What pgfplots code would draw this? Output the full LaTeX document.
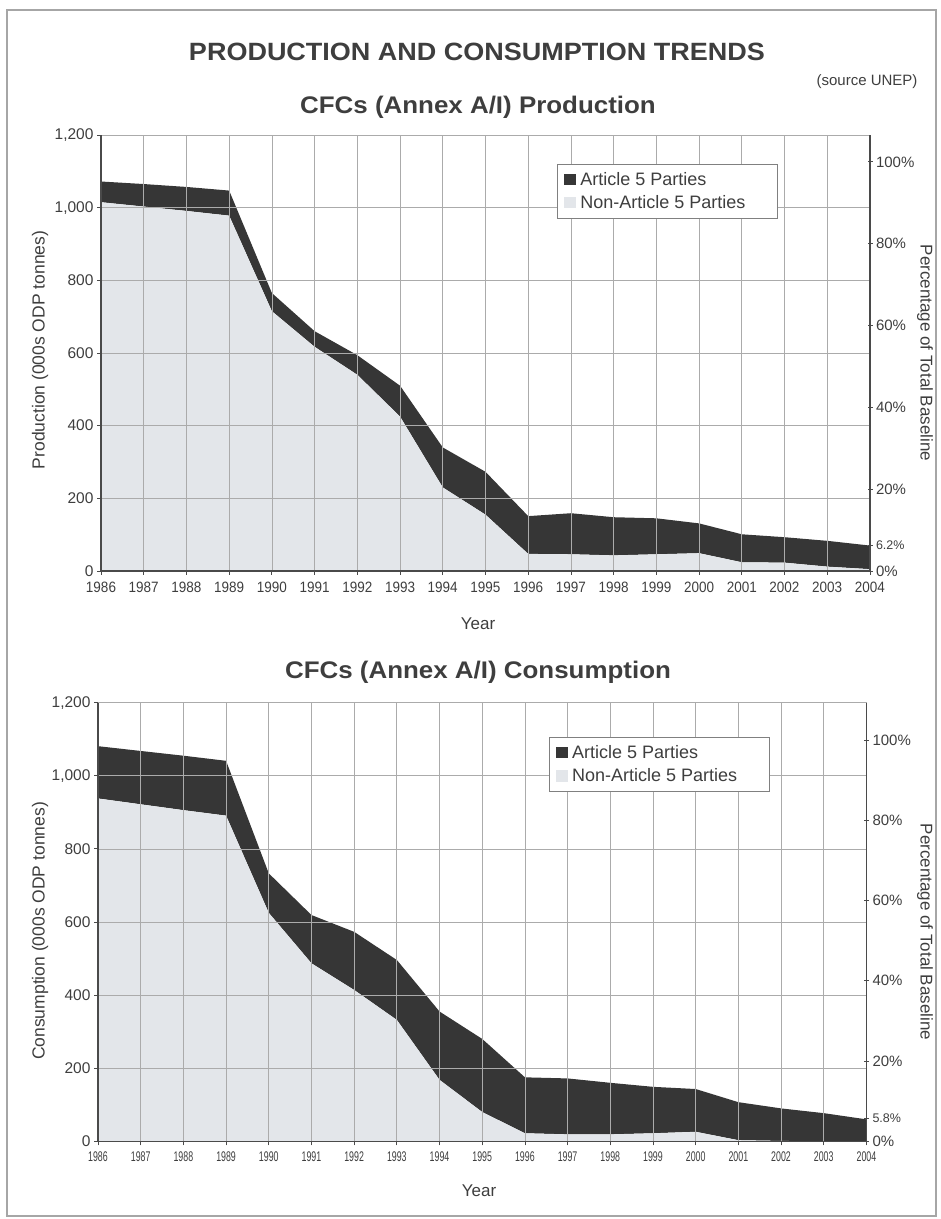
\documentclass[border=0pt]{standalone}
\usepackage{fontspec}
\setmainfont{Liberation Sans}
\usepackage{graphicx}
\usepackage{pgfplots}
\usepackage{pgfplotstable}
\pgfplotsset{compat=1.18}
\definecolor{darkfill}{HTML}{363636}
\definecolor{lightfill}{HTML}{E3E6EA}
\definecolor{gridc}{HTML}{ABABAB}
\definecolor{txt}{HTML}{3E3E3E}
\definecolor{axc}{HTML}{4A4A4A}

\pgfplotstableread{
year nona5 a5
1986 1015 57
1987 1003 62
1988 991 66
1989 978 69
1990 715 50
1991 617 43
1992 540 54
1993 425 85
1994 230 110
1995 155 118
1996 47 104
1997 46 113
1998 43 105
1999 46 99
2000 49 82
2001 24 77
2002 23 70
2003 12 71
2004 5 65
}\prodtable

\pgfplotstableread{
year nona5 a5
1986 938 143
1987 922 146
1988 906 149
1989 891 150
1990 625 108
1991 487 132
1992 414 159
1993 332 164
1994 168 187
1995 80 200
1996 22 153
1997 19 153
1998 19 141
1999 22 127
2000 26 117
2001 3 104
2002 1 89
2003 0 77
2004 0 60
}\constable

\pgfplotsset{
 cfcbase/.style={
  scale only axis, anchor=south west,
  xmin=1986, xmax=2004, ymin=0, ymax=1200,
  xtick={1986,...,2004}, ytick={0,200,...,1200},
  yticklabels={0,200,400,600,800,{1,000},{1,200}},
  grid=major, grid style={gridc, line width=0.7pt},
  axis x line*=bottom, axis y line*=left,
  axis line style={axc, line width=1.3pt},
  tick style={axc, line width=0.8pt}, major tick length=4pt, tick align=outside,
  every tick label/.append style={text=txt},
  yticklabel style={font=\fontsize{15.5}{18}\selectfont},
  stack plots=y, area style,
  /pgf/number format/assume math mode=true,
  legend cell align=left,
  legend image code/.code={\fill[##1] (3pt,-5.5pt) rectangle (14.5pt,6pt); \path (0pt,0pt) (17pt,0pt);},
  legend style={draw=gray, line width=0.7pt, fill=white, font=\fontsize{18}{23}\selectfont, text=txt, anchor=north west, inner xsep=4pt, inner ysep=6pt, row sep=4.5pt},
  reverse legend,
 },
 pctbase/.style={
  scale only axis, anchor=south west,
  xmin=1986, xmax=2004, ymin=0,
  axis x line=none, axis y line*=right,
  axis line style={axc, line width=1.3pt},
  tick style={axc, line width=0.8pt}, major tick length=5pt, tick align=center,
  ytick={0,20,...,100},
  yticklabels={0\%,20\%,40\%,60\%,80\%,100\%},
  yticklabel style={font=\fontsize{15}{18}\selectfont, text=txt},
  /pgf/number format/assume math mode=true,
 },
}

\begin{document}
\begin{tikzpicture}[x=1pt,y=1pt]
\path[use as bounding box] (0,0) rectangle (941,1219);
\draw[gray!70, line width=1.2pt] (7,1209) rectangle (936,3);

\node[font=\fontsize{25}{29}\selectfont\bfseries, text=txt] at (477,1167) {\scalebox{1.08}[1]{PRODUCTION AND CONSUMPTION TRENDS}};
\node[font=\fontsize{15}{18}\selectfont, text=txt, anchor=east] at (921,1137) {(source UNEP)};
\node[font=\fontsize{24}{28}\selectfont\bfseries, text=txt] at (478,1112) {\scalebox{1.08}[1]{CFCs (Annex A/I) Production}};
\node[font=\fontsize{24}{28}\selectfont\bfseries, text=txt] at (478,547) {\scalebox{1.08}[1]{CFCs (Annex A/I) Consumption}};

% ---------- Production ----------
\begin{axis}[cfcbase, at={(101pt,648pt)}, width=769pt, height=436pt,
  xticklabel={\scalebox{0.9}[1]{\pgfmathprintnumber[1000 sep={},fixed,precision=0,assume math mode=true]{\tick}}},
  xticklabel style={font=\fontsize{15}{18}\selectfont, yshift=-3pt},
  legend style={at={(0.593,0.9335)}}]
\addplot[fill=lightfill, draw=none] table[x=year,y=nona5]{\prodtable} \closedcycle;
\addplot[fill=darkfill, draw=none] table[x=year,y=a5]{\prodtable} \closedcycle;
\legend{Non-Article 5 Parties\hspace*{26pt},Article 5 Parties}
\end{axis}
\begin{axis}[pctbase, at={(101pt,648pt)}, width=769pt, height=436pt, ymax=106.57,
  extra y ticks={6.2}, extra y tick labels={6.2\%},
  extra y tick style={yticklabel style={font=\fontsize{12.5}{15}\selectfont}}]
\addplot[draw=none] coordinates {(1986,0)};
\end{axis}
\node[font=\fontsize{17.5}{21}\selectfont, text=txt, rotate=90] at (40,869) {Production (000s ODP tonnes)};
\node[font=\fontsize{17}{21}\selectfont, text=txt, rotate=-90] at (925,866) {Percentage of Total Baseline};
\node[font=\fontsize{17}{21}\selectfont, text=txt] at (478,595) {Year};

% ---------- Consumption ----------
\begin{axis}[cfcbase, at={(98pt,77.7pt)}, width=768.5pt, height=438.6pt,
  xticklabel={\scalebox{0.63}[1]{\pgfmathprintnumber[1000 sep={},fixed,precision=0,assume math mode=true]{\tick}}},
  xticklabel style={font=\fontsize{14}{17}\selectfont, yshift=-3pt},
  legend style={at={(0.5865,0.921)}}]
\addplot[fill=lightfill, draw=none] table[x=year,y=nona5]{\constable} \closedcycle;
\addplot[fill=darkfill, draw=none] table[x=year,y=a5]{\constable} \closedcycle;
\legend{Non-Article 5 Parties\hspace*{26pt},Article 5 Parties}
\end{axis}
\begin{axis}[pctbase, at={(98pt,77.7pt)}, width=768.5pt, height=438.6pt, ymax=109.3,
  extra y ticks={5.8}, extra y tick labels={5.8\%},
  extra y tick style={yticklabel style={font=\fontsize{12.5}{15}\selectfont}}]
\addplot[draw=none] coordinates {(1986,0)};
\end{axis}
\node[font=\fontsize{17.5}{21}\selectfont, text=txt, rotate=90] at (40,288) {Consumption (000s ODP tonnes)};
\node[font=\fontsize{17}{21}\selectfont, text=txt, rotate=-90] at (925,287) {Percentage of Total Baseline};
\node[font=\fontsize{17}{21}\selectfont, text=txt] at (479,28.5) {Year};
\end{tikzpicture}
\end{document}
